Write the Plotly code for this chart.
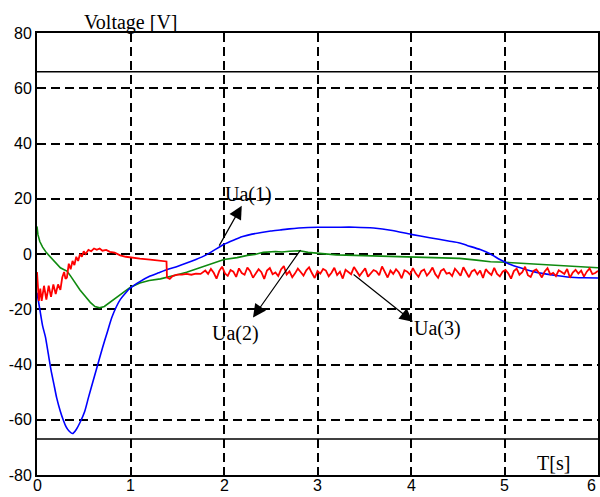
import plotly.graph_objects as go

# ---- data ----
t_ua1 = [0.00, 0.03, 0.06, 0.09, 0.12, 0.15, 0.18, 0.21, 0.25, 0.28, 0.31, 0.34, 0.38, 0.42, 0.46,
         0.51, 0.55, 0.60, 0.65, 0.70, 0.75, 0.80, 0.85, 0.89, 0.95, 1.00, 1.10, 1.21, 1.30, 1.40,
         1.50, 1.60, 1.70, 1.80, 1.90, 2.00, 2.10, 2.20, 2.30, 2.40, 2.50, 2.60, 2.70, 2.80, 2.90,
         3.00, 3.20, 3.40, 3.60, 3.80, 4.00, 4.20, 4.40, 4.52, 4.60, 4.74, 4.85, 4.95, 5.05, 5.17,
         5.30, 5.40, 5.55, 5.70, 5.85, 6.00]
u_ua1 = [-14, -20, -26, -30, -36, -42, -47, -52, -57, -60, -62.5, -64, -65, -63.5, -61,
         -57, -52, -46, -40, -34, -28.5, -23, -19, -16.5, -14, -12.3, -10, -8, -6.8, -5.5,
         -4.5, -3.3, -2, -0.5, 1.5, 3.5, 5, 6.3, 7.2, 7.8, 8.3, 8.7, 9.1, 9.4, 9.6,
         9.7, 9.7, 9.7, 9.4, 8.5, 7.1, 5.9, 4.7, 4, 3.1, 1.6, 0, -2, -3.6, -5,
         -6.3, -7, -7.8, -8.4, -8.6, -8.7]

t_ua2 = [0.00, 0.01, 0.03, 0.06, 0.10, 0.14, 0.18, 0.22, 0.25, 0.28, 0.32, 0.36, 0.40, 0.46, 0.52,
         0.57, 0.62, 0.67, 0.72, 0.78, 0.84, 0.89, 0.95, 1.00, 1.10, 1.20, 1.32, 1.40, 1.50, 1.60,
         1.74, 1.85, 1.92, 2.00, 2.14, 2.25, 2.33, 2.42, 2.55, 2.62, 2.70, 2.81, 2.90, 3.03, 3.20,
         3.40, 3.60, 3.75, 3.88, 4.01, 4.20, 4.42, 4.52, 4.70, 4.85, 5.00, 5.20, 5.35, 5.49, 5.70,
         5.85, 6.00]
u_ua2 = [10, 7, 4.5, 2.5, 0.5, -1, -2.5, -4, -5, -5.5, -6.2, -8, -10, -13, -15.5,
         -17.5, -19, -19.5, -19, -17.5, -16, -14.5, -13, -12, -10.5, -9.6, -9, -8.4, -7.5, -6.6,
         -5, -3.8, -2.8, -2, -1.3, -0.5, -0.2, 0.6, 0.9, 0.7, 1.0, 1.2, 0.6, 0.1, -0.3,
         -0.5, -0.7, -0.6, -1, -1.0, -1.3, -1.5, -1.6, -2.2, -2.8, -3, -3.4, -3.6, -4, -4.5,
         -4.8, -5]

t_ua3_start = [0.00, 0.01, 0.02, 0.035, 0.05, 0.075, 0.10, 0.125, 0.15, 0.175, 0.20, 0.225, 0.25,
               0.27, 0.29, 0.305, 0.32, 0.34, 0.36, 0.38, 0.40, 0.42, 0.44, 0.46, 0.48, 0.50,
               0.52, 0.55, 0.58, 0.61, 0.64, 0.67, 0.70, 0.74, 0.78, 0.83, 0.89, 0.95, 1.00, 1.10,
               1.21, 1.30, 1.385, 1.39, 1.42, 1.45, 1.50, 1.55, 1.60, 1.65, 1.70, 1.75]
u_ua3_start = [-6.5, -14, -17, -12.5, -17, -11.5, -16.5, -11.5, -15.5, -11, -14.5, -11, -13,
               -8.5, -6.5, -9, -8.5, -3.5, -5.5, -2.5, -4, -1, -2.5, 0, -1, 1,
               0, 1.5, 1, 2, 1.5, 2, 1.2, 1.5, 0.8, 0.5, -0.5, -1, -1.3, -1.7,
               -2, -2.4, -2.7, -8.5, -9, -8, -7.5, -7.5, -7.2, -7.5, -7.1, -7.2]

ua3_noise_t0 = 1.80
ua3_noise_dt = 0.03
u_ua3_noise = [-6.0, -7.2, -5.4, -6.8, -8.9, -6.1, -4.6, -7.0, -7.9, -5.8,
               -6.4, -8.3, -5.2, -6.9, -7.5, -4.9, -6.2, -8.6, -7.1, -5.5,
               -6.6, -9.0, -6.0, -5.1, -7.3, -6.7, -8.0, -5.6, -4.4, -7.4,
               -6.3, -8.4, -7.0, -5.3, -6.5, -7.8, -5.9, -4.8, -6.9, -8.7,
               -6.2, -7.1, -5.4, -6.0, -8.1, -6.8, -5.0, -7.6, -6.4, -8.9,
               -5.7, -6.6, -7.3, -4.7, -6.1, -7.9, -6.5, -5.2, -8.2, -7.0,
               -5.8, -6.3, -7.7, -4.5, -6.8, -8.5, -6.0, -7.2, -5.5, -6.7,
               -8.8, -5.9, -6.4, -7.5, -5.1, -7.0, -8.3, -6.2, -5.6, -7.8,
               -6.6, -4.9, -7.3, -8.6, -6.1, -5.4, -7.1, -6.8, -8.0, -5.3,
               -6.5, -7.9, -4.8, -6.9, -8.4, -6.3, -5.7, -7.4, -6.0, -8.7,
               -5.5, -6.7, -7.6, -5.0, -7.2, -8.1, -6.4, -5.8, -7.0, -8.9,
               -6.2, -5.3, -7.5, -6.6, -4.6, -7.7, -8.3, -6.1, -5.6, -6.9,
               -8.5, -6.3, -5.1, -7.4, -6.8, -8.0, -5.9, -6.5, -7.2, -5.4,
               -8.6, -6.7, -5.7, -7.1, -6.0, -8.2, -6.4, -5.2, -7.3, -6.9,
               -6.1]
t_ua3_noise = [round(ua3_noise_t0 + i * ua3_noise_dt, 3) for i in range(len(u_ua3_noise))]

t_ua3 = t_ua3_start + t_ua3_noise
u_ua3 = u_ua3_start + u_ua3_noise

limit_levels = [66, -67]

x_ticks = [0, 1, 2, 3, 4, 5, 6]
y_ticks = [-80, -60, -40, -20, 0, 20, 40, 60, 80]

# label annotations: (text, x, y)
labels = [("Ua(1)", 2.26, 21.5), ("Ua(2)", 2.12, -28.6), ("Ua(3)", 4.28, -27)]
# arrows: (tail_x, tail_y, head_x, head_y)
arrows = [(1.94, 2.5, 2.19, 17.5), (2.83, 2.0, 2.31, -23), (3.37, -7, 4.02, -24.5)]

# ---- figure ----
fig = go.Figure()
fig.add_trace(go.Scatter(x=t_ua2, y=u_ua2, mode="lines", line=dict(color="#0f8a0f", width=1.6)))
fig.add_trace(go.Scatter(x=t_ua1, y=u_ua1, mode="lines",
                         line=dict(color="#0000ff", width=1.6, shape="spline", smoothing=0.6)))
fig.add_trace(go.Scatter(x=t_ua3, y=u_ua3, mode="lines", line=dict(color="#ff0000", width=1.8)))

for lv in limit_levels:
    fig.add_shape(type="line", xref="paper", x0=0, x1=1, yref="y", y0=lv, y1=lv,
                  line=dict(color="black", width=1.5))

serif = dict(family="Liberation Serif", size=20, color="black")
for txt, x, y in labels:
    fig.add_annotation(x=x, y=y, text=txt, showarrow=False, font=serif)
for tx, ty, hx, hy in arrows:
    fig.add_annotation(x=hx, y=hy, ax=tx, ay=ty, axref="x", ayref="y", text="",
                       showarrow=True, arrowhead=2, arrowsize=2.2, arrowwidth=1.2,
                       arrowcolor="black", standoff=0, startstandoff=0)

fig.add_annotation(xref="paper", yref="paper", x=0.168, y=1.0, xanchor="center",
                   yanchor="bottom", yshift=-3, text="Voltage [V]", showarrow=False, font=serif)
fig.add_annotation(x=5.52, y=-75.5, text="T[s]", showarrow=False, font=serif)

# x tick labels as annotations so they fit inside the page
for v in x_ticks:
    fig.add_annotation(x=v, xref="x", y=0, yref="paper", yanchor="bottom", yshift=-21,
                       xanchor="right" if v == x_ticks[-1] else "center",
                       text=str(v), showarrow=False,
                       font=dict(family="Liberation Sans", size=16, color="black"))

axis_common = dict(showline=True, linecolor="black", linewidth=2, mirror=True,
                   showgrid=True, gridcolor="black", gridwidth=2, griddash="9px,5px",
                   zeroline=False, ticks="", automargin=False,
                   tickfont=dict(family="Liberation Sans", size=16, color="black"))

fig.update_xaxes(range=[0, 6], tickvals=x_ticks, showticklabels=False, **axis_common)
fig.update_yaxes(range=[-80, 80], tickvals=y_ticks, ticktext=[str(v) for v in y_ticks], **axis_common)

fig.update_layout(width=600, height=497, showlegend=False,
                  margin=dict(l=37, r=2, t=33, b=22),
                  plot_bgcolor="white", paper_bgcolor="white")

fig.write_html("out.html")
